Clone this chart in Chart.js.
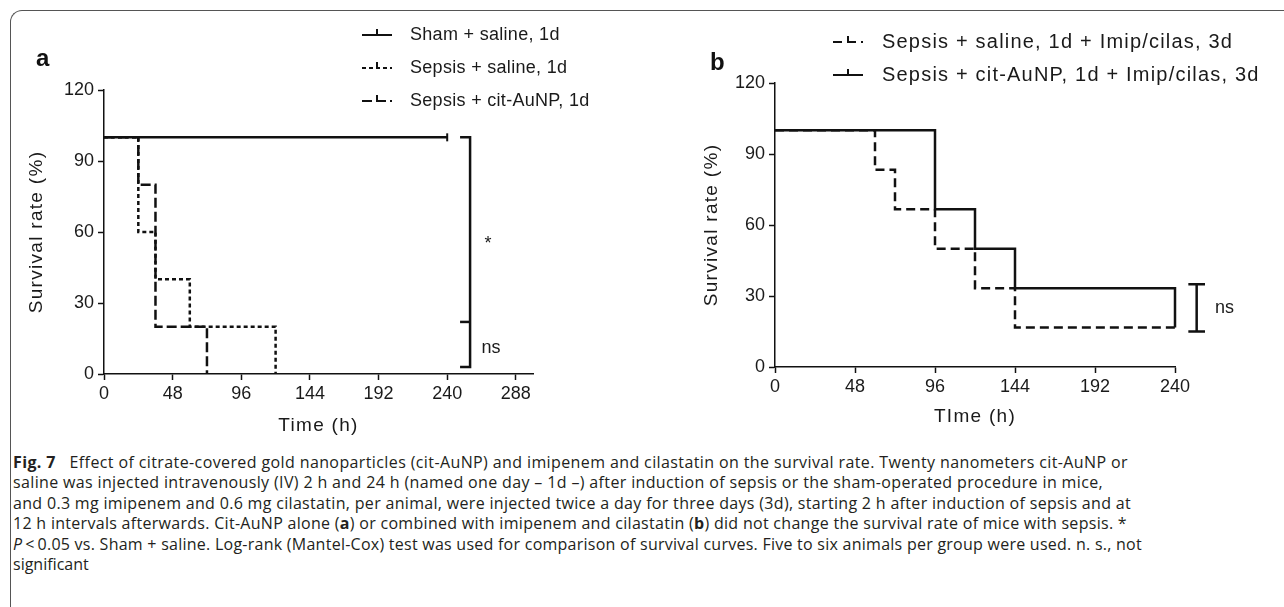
<!DOCTYPE html>
<html>
<head>
<meta charset="utf-8">
<script src="https://cdn.jsdelivr.net/npm/chart.js@4.4.1/dist/chart.umd.min.js"></script>
<style>
  body { margin: 0; width: 1284px; height: 607px; background: #fff; position: relative; overflow: hidden; font-family: "Liberation Sans", Arial, sans-serif; }
  #frame { position: absolute; left: 10px; top: 10px; width: 1300px; height: 640px; border-left: 1.5px solid #555; border-top: 1.5px solid #555; border-top-left-radius: 12px; }
  #chartA { position: absolute; left: 0; top: 0; }
  #chartB { position: absolute; left: 680px; top: 0; }
  .panel { position: absolute; font-weight: bold; font-size: 24px; color: #111; }
  #caption { position: absolute; left: 13px; top: 452px; font-family: "Open Sans", sans-serif; font-size: 16px; line-height: 20.4px; color: #231f20; white-space: nowrap; }
  #caption div { display: table; }
</style>
</head>
<body>
<div id="frame"></div>
<canvas id="chartA" width="680" height="440"></canvas>
<canvas id="chartB" width="604" height="440"></canvas>
<div class="panel" style="left:36px;top:44px">a</div>
<div class="panel" style="left:710px;top:48px">b</div>
<div id="caption">
  <div data-right="1128"><b>Fig. 7</b>&nbsp;&nbsp; Effect of citrate-covered gold nanoparticles (cit-AuNP) and imipenem and cilastatin on the survival rate. Twenty nanometers cit-AuNP or</div>
  <div data-right="1103">saline was injected intravenously (IV) 2 h and 24 h (named one day – 1d –) after induction of sepsis or the sham-operated procedure in mice,</div>
  <div data-right="1131">and 0.3 mg imipenem and 0.6 mg cilastatin, per animal, were injected twice a day for three days (3d), starting 2 h after induction of sepsis and at</div>
  <div data-right="1127">12 h intervals afterwards. Cit-AuNP alone (<b>a</b>) or combined with imipenem and cilastatin (<b>b</b>) did not change the survival rate of mice with sepsis. *</div>
  <div data-right="1142"><i>P</i>&thinsp;&lt;&thinsp;0.05 vs. Sham + saline. Log-rank (Mantel-Cox) test was used for comparison of survival curves. Five to six animals per group were used. n. s., not</div>
  <div>significant</div>
</div>
<script>
// axis ticks
const timeTicksA = [0, 48, 96, 144, 192, 240, 288];
const timeTicksB = [0, 48, 96, 144, 192, 240];
const survivalTicks = [0, 30, 60, 90, 120];

// panel a: Kaplan-Meier steps, time (h) and survival (%)
const shamTime = [0, 240];
const shamSurv = [100, 100];
const sepsisSalineTime = [0, 24, 36, 60, 120];
const sepsisSalineSurv = [100, 60, 40, 20, 0];
const sepsisAuTime = [0, 24, 36, 72];
const sepsisAuSurv = [100, 80, 20, 0];

// panel b
const imipSalineTime = [0, 60, 72, 96, 120, 144, 240];
const imipSalineSurv = [100, 83.3, 66.7, 50, 33.3, 16.7, 16.7];
const imipAuTime = [0, 96, 120, 144, 240, 240];
const imipAuSurv = [100, 66.7, 50, 33.3, 33.3, 16.7];

// significance brackets (time, survival)
const bracketATime = [249, 256, 256, 249];
const bracketASurv = [100, 100, 3, 3];
const bracketAMidTime = [249, 256];
const bracketAMidSurv = [22, 22];
const bracketBTime = [248, 258, 253, 253, 248, 258];
const bracketBSurv = [35, 35, 35, 15, 15, 15];

const INK = '#111';
const TXT = '#1a1a1a';
const FONT = { family: '"Liberation Sans", Arial, sans-serif', size: 18 };
const TITLE_FONT = { family: '"Liberation Sans", Arial, sans-serif', size: 19 };

function pts(times, vals) {
  return times.map((t, i) => ({ x: t, y: vals[i] }));
}

function kmLine(label, times, vals, dash, extra) {
  return Object.assign({
    label: label,
    data: pts(times, vals),
    showLine: true,
    stepped: 'before',
    borderColor: INK,
    borderWidth: 2.5,
    borderDash: dash,
    borderCapStyle: 'butt',
    pointRadius: 0,
    clip: false
  }, extra || {});
}

function bracket(times, vals) {
  return {
    label: '',
    data: pts(times, vals),
    showLine: true,
    borderColor: INK,
    borderWidth: 2.5,
    pointRadius: 0,
    clip: false
  };
}

// the exported figure has loosely spaced letters in the axis titles
const spacedTitles = {
  id: 'spacedTitles',
  afterLayout(chart) {
    Object.values(chart.scales).forEach(s => {
      if (s._spaced) return;
      const orig = s.drawTitle;
      s.drawTitle = function () {
        this.ctx.save();
        this.ctx.letterSpacing = '1.3px';
        orig.call(this);
        this.ctx.restore();
      };
      s._spaced = true;
    });
  }
};

const figText = {
  id: 'figText',
  afterDraw(chart, args, opts) {
    const ctx = chart.ctx;
    const xs = chart.scales.x, ys = chart.scales.y;
    ctx.save();
    ctx.fillStyle = TXT;
    ctx.textBaseline = 'middle';
    ctx.font = opts.legendFont;
    ctx.letterSpacing = opts.legendSpacing;
    opts.legend.forEach((idx, i) => {
      const ds = chart.data.datasets[idx];
      const y = opts.legendY + i * opts.legendGap;
      ctx.strokeStyle = INK;
      ctx.lineWidth = 2;
      ctx.setLineDash(ds.borderDash || []);
      ctx.beginPath();
      ctx.moveTo(opts.symX, y);
      ctx.lineTo(opts.symX + 30, y);
      ctx.stroke();
      ctx.setLineDash([]);
      ctx.beginPath();
      ctx.moveTo(opts.symX + 15, y);
      ctx.lineTo(opts.symX + 15, y - 6);
      ctx.stroke();
      ctx.fillText(ds.label, opts.textX, y);
    });
    ctx.letterSpacing = '0px';
    ctx.font = '18px "Liberation Sans", Arial, sans-serif';
    opts.marks.forEach(m => {
      ctx.fillText(m.text, xs.getPixelForValue(m.x), ys.getPixelForValue(m.y));
    });
    ctx.restore();
  }
};

function makeOptions(tickList, xMax, xTitle, lay) {
  return {
    responsive: false,
    animation: false,
    events: [],
    layout: { padding: lay.padding },
    plugins: {
      legend: { display: false },
      tooltip: { enabled: false },
      figText: lay.text
    },
    scales: {
      x: {
        type: 'linear', min: 0, max: xMax,
        afterBuildTicks: s => { s.ticks = tickList.map(v => ({ value: v })); },
        afterFit: s => { s.height = lay.xHeight; },
        grid: { drawOnChartArea: false, drawTicks: true, tickLength: 6, tickColor: INK, tickWidth: 1.5 },
        border: { display: true, color: INK, width: 1.5 },
        ticks: { color: TXT, font: FONT, padding: 3, maxRotation: 0 },
        title: { display: true, text: xTitle, color: TXT, font: TITLE_FONT, padding: { top: 0, bottom: lay.xTitlePad } }
      },
      y: {
        type: 'linear', min: 0, max: 120,
        afterBuildTicks: s => { s.ticks = survivalTicks.map(v => ({ value: v })); },
        afterFit: s => { s.width = lay.yWidth; },
        grid: { drawOnChartArea: false, drawTicks: true, tickLength: 6, tickColor: INK, tickWidth: 1.5 },
        border: { display: true, color: INK, width: 1.5 },
        ticks: { color: TXT, font: FONT, padding: 4 },
        title: { display: true, text: 'Survival rate (%)', color: TXT, font: TITLE_FONT, padding: { top: lay.yTitlePad, bottom: 0 } }
      }
    }
  };
}

new Chart(document.getElementById('chartA'), {
  type: 'scatter',
  data: {
    datasets: [
      kmLine('Sham + saline, 1d', shamTime, shamSurv, [], {
        pointRadius: [0, 4], pointStyle: 'line', rotation: 90, pointBorderColor: INK, pointBorderWidth: 2
      }),
      kmLine('Sepsis + saline, 1d', sepsisSalineTime, sepsisSalineSurv, [4, 3]),
      kmLine('Sepsis + cit-AuNP, 1d', sepsisAuTime, sepsisAuSurv, [10, 4]),
      bracket(bracketATime, bracketASurv),
      bracket(bracketAMidTime, bracketAMidSurv)
    ]
  },
  options: makeOptions(timeTicksA, 300, 'Time (h)', {
    padding: { top: 90, right: 147, bottom: 0, left: 0 },
    xHeight: 66, yWidth: 104, xTitlePad: 3, yTitlePad: 25,
    text: {
      legend: [0, 1, 2], legendY: 35, legendGap: 33, symX: 362, textX: 410,
      legendFont: '18px "Liberation Sans", Arial, sans-serif', legendSpacing: '0.3px',
      marks: [{ text: '*', x: 266, y: 55 }, { text: 'ns', x: 264, y: 11 }]
    }
  }),
  plugins: [spacedTitles, figText]
});

new Chart(document.getElementById('chartB'), {
  type: 'scatter',
  data: {
    datasets: [
      kmLine('Sepsis + saline, 1d + Imip/cilas, 3d', imipSalineTime, imipSalineSurv, [9, 5]),
      kmLine('Sepsis + cit-AuNP, 1d + Imip/cilas, 3d', imipAuTime, imipAuSurv, []),
      bracket(bracketBTime, bracketBSurv)
    ]
  },
  options: makeOptions(timeTicksB, 240, 'TIme (h)', {
    padding: { top: 83, right: 109, bottom: 0, left: 0 },
    xHeight: 73, yWidth: 95, xTitlePad: 12, yTitlePad: 20,
    text: {
      legend: [0, 1], legendY: 42, legendGap: 33, symX: 153, textX: 202,
      legendFont: '20px "Liberation Sans", Arial, sans-serif', legendSpacing: '1.2px',
      marks: [{ text: 'ns', x: 264, y: 25 }]
    }
  }),
  plugins: [spacedTitles, figText]
});

// stretch caption lines to the line lengths of the printed figure
const capLeft = document.getElementById('caption').getBoundingClientRect().left;
document.querySelectorAll('#caption div[data-right]').forEach(line => {
  const target = +line.dataset.right - capLeft;
  const chars = line.textContent.length;
  const extra = target - line.getBoundingClientRect().width;
  line.style.letterSpacing = (extra / chars).toFixed(3) + 'px';
});
</script>
</body>
</html>
